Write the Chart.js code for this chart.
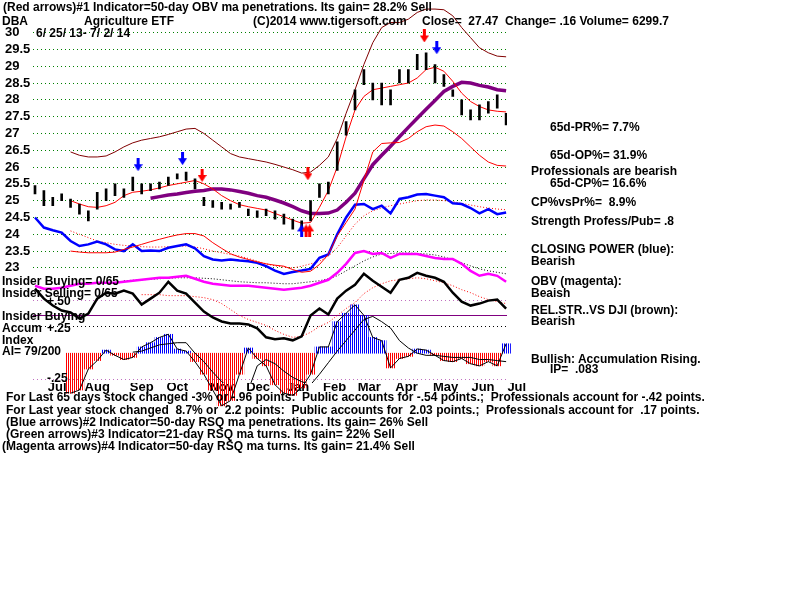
<!DOCTYPE html>
<html>
<head>
<meta charset="utf-8">
<script src="https://cdn.jsdelivr.net/npm/chart.js@4"></script>
<style>
body { margin: 0; background: #fff; }
#wrap { position: relative; width: 800px; height: 600px; }
#wrap div { position: absolute; white-space: pre; font-family: "Liberation Sans", Arial, sans-serif; font-weight: bold; line-height: 13px; color: #000; }
</style>
</head>
<body>
<div id="wrap"><canvas id="chart" width="800" height="600"></canvas></div>
<script>
// weekly samples, 6/25/13 .. 7/2/14
const monthLabels = ["Jul", "Aug", "Sep", "Oct", "Nov", "Dec", "Jan", "Feb", "Mar", "Apr", "May", "Jun", "Jul"];
const monthPos = [2.5, 7.0, 12.0, 16.0, 21.0, 25.1, 29.6, 33.7, 37.6, 41.8, 46.2, 50.4, 54.2];
const priceTicks = [23, 23.5, 24, 24.5, 25, 25.5, 26, 26.5, 27, 27.5, 28, 28.5, 29, 29.5, 30];

const priceHigh = [25.45, 25.3, 25.1, 25.2, 25.05, 24.9, 24.7, 25.25, 25.35, 25.5,
  25.35, 25.7, 25.5, 25.5, 25.55, 25.7, 25.8, 25.85, 25.65, 25.1,
  25.0, 24.95, 24.9, 24.95, 24.75, 24.7, 24.75, 24.7, 24.6, 24.45,
  24.4, 25.0, 25.5, 25.55, 26.75, 27.35, 28.3, 28.9, 28.5, 28.5,
  28.3, 28.9, 28.9, 29.35, 29.4, 29.05, 28.75, 28.3, 28.0, 27.7,
  27.85, 27.95, 28.15, 27.6];
const priceLow = [25.2, 24.85, 24.85, 25.0, 24.8, 24.6, 24.4, 24.75, 25.0, 25.15,
  25.1, 25.3, 25.2, 25.3, 25.35, 25.45, 25.65, 25.6, 25.35, 24.85,
  24.8, 24.75, 24.75, 24.8, 24.55, 24.5, 24.55, 24.45, 24.3, 24.15,
  24.2, 24.4, 25.1, 25.2, 25.9, 26.95, 27.7, 28.45, 28.0, 27.85,
  27.85, 28.5, 28.5, 28.9, 28.9, 28.5, 28.4, 28.1, 27.55, 27.4,
  27.4, 27.6, 27.75, 27.25];
const ma21 = [null, null, null, null, 25.0, 24.9, 24.82, 24.8, 24.85, 24.95,
  25.15, 25.25, 25.28, 25.32, 25.38, 25.45, 25.5, 25.55, 25.6, 25.5,
  25.35, 25.15, 25.0, 24.88, 24.82, 24.77, 24.72, 24.62, 24.52, 24.42,
  24.33, 24.35, 24.8, 25.3, 26.0, 26.9, 27.7, 28.1, 28.3, 28.35,
  28.4, 28.45, 28.5, 28.65, 28.9, 28.97, 28.85, 28.55, 28.2, 27.95,
  27.8, 27.7, 27.66, 27.64];
const bandUp = [null, null, null, null, 26.45, 26.35, 26.3, 26.3, 26.33, 26.45,
  26.6, 26.72, 26.8, 26.85, 26.9, 26.97, 27.05, 27.13, 27.15, 27.0,
  26.8, 26.6, 26.4, 26.3, 26.25, 26.2, 26.15, 26.08, 26.0, 25.92,
  25.82, 25.85, 26.05, 26.3, 26.85, 27.6, 28.3, 29.05, 29.7, 30.15,
  30.3, 30.3, 30.4, 30.6, 30.7, 30.7, 30.68, 30.5, 30.15, 29.85,
  29.55, 29.4, 29.3, 29.28];
const bandLow = [null, null, null, null, 23.5, 23.47, 23.45, 23.45, 23.45, 23.47,
  23.55, 23.62, 23.7, 23.78, 23.85, 23.92, 23.98, 24.02, 24.02, 23.95,
  23.75, 23.58, 23.42, 23.32, 23.25, 23.18, 23.12, 23.08, 23.05, 22.95,
  22.87, 22.9, 23.1, 23.4, 23.95, 24.35, 24.75, 25.6, 26.45, 26.7,
  26.72, 26.73, 26.85, 27.05, 27.2, 27.25, 27.22, 27.05, 26.85, 26.6,
  26.35, 26.15, 26.05, 26.03];
const ma50 = [null, null, null, null, null, null, null, null, null, null,
  null, null, null, 25.07, 25.12, 25.17, 25.2, 25.24, 25.28, 25.3,
  25.35, 25.35, 25.32, 25.27, 25.22, 25.15, 25.1, 25.02, 24.93, 24.82,
  24.7, 24.62, 24.62, 24.63, 24.72, 24.95, 25.22, 25.65, 26.07, 26.35,
  26.62, 26.9, 27.18, 27.45, 27.72, 27.98, 28.25, 28.4, 28.52, 28.5,
  28.43, 28.38, 28.3, 28.27];
const closingPower = [24.5, 24.2, 24.12, 24.05, 23.8, 23.65, 23.7, 23.78, 23.7, 23.55,
  23.5, 23.7, 23.5, 23.52, 23.5, 23.6, 23.65, 23.7, 23.58, 23.35,
  23.25, 23.22, 23.25, 23.22, 23.2, 23.15, 23.05, 22.92, 22.82, 22.88,
  22.92, 22.97, 23.3, 23.4, 24.0, 24.5, 24.88, 24.9, 24.75, 24.85,
  24.62, 25.05, 25.1, 25.18, 25.2, 25.15, 25.1, 24.92, 24.9, 24.78,
  24.62, 24.75, 24.6, 24.65];
const cpMa = [null, null, null, null, 24.1, 24.0, 23.9, 23.8, 23.75, 23.7,
  23.67, 23.65, 23.63, 23.62, 23.62, 23.63, 23.64, 23.65, 23.62, 23.57,
  23.5, 23.45, 23.4, 23.35, 23.28, 23.2, 23.12, 23.06, 23.02, 23.0,
  23.05, 23.12, 23.2, 23.35, 23.6, 23.95, 24.3, 24.55, 24.7, 24.78,
  24.85, 24.9, 24.95, 25.0, 25.02, 25.02, 25.0, 24.97, 24.92, 24.87,
  24.82, 24.78, 24.75, 24.73];
const obv = [150, 120, 120, 130, 150, 170, 170, 180, 180, 180,
  190, 200, 210, 220, 230, 230, 240, 250, 220, 190,
  170, 160, 150, 150, 150, 140, 130, 120, 110, 120,
  130, 150, 180, 210, 280, 370, 480, 500, 470, 480,
  430, 470, 470, 470, 450, 430, 420, 420, 370, 300,
  250, 270, 250, 190];
const obvMa = [null, null, null, null, null, null, null, null, null, null,
  200, 205, 210, 215, 220, 225, 230, 230, 230, 225,
  220, 210, 200, 190, 185, 180, 180, 175, 170, 170,
  180, 190, 200, 220, 250, 300, 350, 400, 440, 470,
  475, 480, 480, 475, 470, 460, 440, 410, 380, 350,
  320, 300, 285, 270];
const relStrength = [1.135, 1.085, 1.05, 1.025, 1.015, 0.985, 1.01, 1.085, 1.115, 1.11,
  1.125, 1.11, 1.055, 1.085, 1.115, 1.17, 1.125, 1.11, 1.065, 1.02,
  0.99, 0.97, 0.96, 0.96, 0.955, 0.935, 0.89, 0.88, 0.885, 0.875,
  0.895, 1.0, 1.035, 1.005, 1.085, 1.125, 1.155, 1.21, 1.175, 1.145,
  1.115, 1.18, 1.19, 1.215, 1.2, 1.19, 1.17, 1.115, 1.07, 1.05,
  1.06, 1.075, 1.08, 1.035];
const rsMa = [null, null, null, null, null, null, null, null, null, null,
  null, null, 1.105, 1.105, 1.105, 1.1, 1.1, 1.1, 1.095, 1.09,
  1.08, 1.06, 1.03, 1.0, 0.98, 0.965, 0.95, 0.925, 0.905, 0.89,
  0.895, 0.915, 0.945, 0.965, 1.0, 1.035, 1.065, 1.11, 1.14, 1.16,
  1.175, 1.18, 1.185, 1.19, 1.185, 1.175, 1.165, 1.15, 1.13, 1.115,
  1.095, 1.08, 1.07, 1.06];
const accumIndex = [null, null, null, null, -0.38, -0.35, -0.15, -0.07, 0.03, -0.02,
  -0.06, -0.04, 0.06, 0.1, 0.15, 0.18, 0.04, 0.02, -0.08, -0.2,
  -0.35, -0.5, -0.45, -0.2, 0.05, -0.05, -0.12, -0.3, -0.38, -0.4,
  -0.33, -0.2, 0.06, 0.06, 0.3, 0.38, 0.46, 0.36, 0.15, 0.12,
  -0.14, -0.05, -0.03, 0.04, 0.03, -0.02, -0.07, -0.08, -0.05, -0.1,
  -0.12, -0.08, -0.12, 0.09];
const aiMa = [null, null, null, null, null, null, null, null, null, null,
  null, 0.01, 0.02, 0.05, 0.08, 0.09, 0.1, 0.1, 0.0, -0.08,
  -0.18, -0.27, -0.34, -0.37, -0.35, -0.12, -0.06, -0.1, -0.17, -0.23,
  -0.27, -0.3, -0.2, -0.09, 0.02, 0.12, 0.22, 0.32, 0.35, 0.3,
  0.24, 0.12, 0.05, 0.0, -0.02, -0.02, -0.03, -0.04, -0.04, -0.04,
  -0.06, -0.06, -0.07, -0.08];
const aiLevels = [-0.25, 0.25, 0.5];

// signal arrows: week position, price, colour, direction
const arrowWeek = [11.6, 16.6, 18.8, 30.7, 43.8, 45.2, 30.0, 30.5, 30.9];
const arrowPrice = [26.07, 26.25, 25.75, 25.8, 29.9, 29.55, 24.1, 24.1, 24.1];
const arrowColor = ["#0000ff", "#0000ff", "#ff0000", "#ff0000", "#ff0000", "#0000ff", "#0000ff", "#ff0000", "#ff0000"];
const arrowUp = [false, false, false, false, false, false, true, true, true];

const texts = [
  [3, 1, 12, "(Red arrows)#1 Indicator=50-day OBV ma penetrations. Its gain= 28.2% Sell"],
  [2, 15, 12, "DBA"],
  [84, 15, 12, "Agriculture ETF"],
  [253, 15, 12, "(C)2014 www.tigersoft.com"],
  [422, 15, 12, "Close=  27.47  Change= .16 Volume= 6299.7"],
  [36, 27, 12, "6/ 25/ 13- 7/ 2/ 14"],
  [550, 121, 12, "65d-PR%= 7.7%"],
  [550, 149, 12, "65d-OP%= 31.9%"],
  [531, 165, 12, "Professionals are bearish"],
  [550, 177, 12, "65d-CP%= 16.6%"],
  [531, 196, 12, "CP%vsPr%=  8.9%"],
  [531, 215, 12, "Strength Profess/Pub= .8"],
  [531, 243, 12, "CLOSING POWER (blue):"],
  [531, 255, 12, "Bearish"],
  [531, 275, 12, "OBV (magenta):"],
  [531, 287, 12, "Beaish"],
  [531, 304, 12, "REL.STR..VS DJI (brown):"],
  [531, 315, 12, "Bearish"],
  [531, 353, 12, "Bullish: Accumulation Rising."],
  [550, 363, 12, "IP=  .083"],
  [2, 275, 12, "Insider Buying= 0/65"],
  [2, 287, 12, "Insider Selling= 0/65"],
  [47, 295, 12, "+.50"],
  [2, 310, 12, "Insider Buying"],
  [2, 322, 12, "Accum"],
  [47, 322, 12, "+.25"],
  [2, 334, 12, "Index"],
  [2, 345, 12, "AI= 79/200"],
  [47, 372, 12, "-.25"],
  [6, 391, 12, "For Last 65 days stock changed -3% or -.96 points:  Public accounts for -.54 points.;  Professionals account for -.42 points."],
  [6, 404, 12, "For Last year stock changed  8.7% or  2.2 points:  Public accounts for  2.03 points.;  Professionals account for  .17 points."],
  [6, 416, 12, "(Blue arrows)#2 Indicator=50-day RSQ ma penetrations. Its gain= 26% Sell"],
  [6, 428, 12, "(Green arrows)#3 Indicator=21-day RSQ ma turns. Its gain= 22% Sell"],
  [2, 440, 12, "(Magenta arrows)#4 Indicator=50-day RSQ ma turns. Its gain= 21.4% Sell"]
];

const FONT = "'Liberation Sans', Arial, sans-serif";
const xy = (arr) => arr.map((v, i) => ({ x: i, y: v }));

function stripes(color) {
  const c = document.createElement("canvas");
  c.width = 2;
  c.height = 1;
  const g = c.getContext("2d");
  g.fillStyle = color;
  g.fillRect(0, 0, 1, 1);
  return g.createPattern(c, "repeat");
}

function arrow(color, up) {
  const c = document.createElement("canvas");
  c.width = 9;
  c.height = 13;
  const g = c.getContext("2d");
  if (up) {
    g.translate(0, 13);
    g.scale(1, -1);
  }
  g.fillStyle = color;
  g.fillRect(3, 0, 3, 7);
  g.beginPath();
  g.moveTo(0, 6);
  g.lineTo(9, 6);
  g.lineTo(4.5, 13);
  g.closePath();
  g.fill();
  return c;
}

const line = (data, axis, color, width, dash, order) => ({
  type: "line",
  data: xy(data),
  yAxisID: axis,
  borderColor: color,
  borderWidth: width,
  borderDash: dash,
  pointRadius: 0,
  tension: 0,
  fill: false,
  order: order,
});

const redStripes = stripes("#ff0000");
const blueStripes = stripes("#0000ff");

new Chart(document.getElementById("chart"), {
  type: "line",
  data: {
    datasets: [
      {
        type: "line",
        data: arrowWeek.map((w, i) => ({ x: w, y: arrowPrice[i] })),
        yAxisID: "y",
        showLine: false,
        pointStyle: arrowWeek.map((w, i) => arrow(arrowColor[i], arrowUp[i])),
        pointRadius: 5,
        clip: false,
        order: 0,
      },
      {
        type: "bar",
        data: priceHigh.map((h, i) => ({ x: i, y: [priceLow[i], h] })),
        yAxisID: "y",
        backgroundColor: "#000",
        barThickness: 2,
        grouped: false,
        order: 1,
      },
      line(ma21, "y", "#ff0000", 1, [], 2),
      line(bandUp, "y", "#800000", 1, [], 3),
      line(bandLow, "y", "#ff0000", 1, [], 3),
      line(ma50, "y", "#800080", 3.5, [], 4),
      line(closingPower, "y", "#0000ff", 2.5, [], 5),
      line(cpMa, "y", "#ff0000", 1, [1, 2], 6),
      line(obv, "obv", "#ff00ff", 2.5, [], 7),
      line(obvMa, "obv", "#000000", 1, [1, 2], 8),
      line(relStrength, "rs", "#000000", 2.5, [], 9),
      line(rsMa, "rs", "#ff0000", 1, [1, 2], 10),
      line(aiMa, "ai", "#000000", 1, [], 11),
      Object.assign(line(accumIndex, "ai", "#000000", 1, [], 12), { clip: false }),
      {
        type: "bar",
        data: xy(accumIndex),
        yAxisID: "ai",
        backgroundColor: (c) => (c.raw && c.raw.y < 0 ? redStripes : blueStripes),
        barPercentage: 1,
        categoryPercentage: 1,
        grouped: false,
        clip: false,
        order: 13,
      },
    ],
  },
  options: {
    responsive: false,
    animation: false,
    devicePixelRatio: 1,
    layout: { padding: { left: 5, top: 5, right: 293, bottom: 203 } },
    plugins: { legend: { display: false }, tooltip: { enabled: false } },
    scales: {
      x: {
        type: "linear",
        min: -0.225,
        max: 53.1,
        offset: false,
        afterBuildTicks: (s) => { s.ticks = monthPos.map((v) => ({ value: v })); },
        afterFit: (s) => { s.height = 14; },
        grid: { display: false },
        border: { display: false },
        ticks: {
          autoSkip: false,
          maxRotation: 0,
          padding: -11,
          color: "#000",
          font: { family: FONT, size: 13, weight: "bold" },
          callback: (v, i) => monthLabels[i],
        },
      },
      y: {
        position: "left",
        min: 19.575,
        max: 30.738,
        afterBuildTicks: (s) => { s.ticks = priceTicks.map((v) => ({ value: v })); },
        afterFit: (s) => { s.width = 28; },
        grid: { color: "#008000", drawTicks: false },
        border: { display: false, dash: [1, 3] },
        ticks: {
          crossAlign: "far",
          padding: 0,
          color: "#000",
          font: { family: FONT, size: 13, weight: "bold" },
          callback: (v) => String(v),
        },
      },
      ai: {
        position: "right",
        min: -0.283,
        max: 3.283,
        afterBuildTicks: (s) => { s.ticks = aiLevels.map((v) => ({ value: v })); },
        afterFit: (s) => { s.width = 0; },
        ticks: { display: false },
        grid: { drawTicks: false, color: (c) => (c.tick && c.tick.value === 0.25 ? "#000000" : "#c070c0") },
        border: { display: false, dash: [1, 3] },
      },
      rs: {
        position: "right",
        min: 0.66,
        max: 2.55,
        afterBuildTicks: (s) => { s.ticks = [{ value: 1 }]; },
        afterFit: (s) => { s.width = 0; },
        ticks: { display: false },
        grid: { drawTicks: false, color: "#800080" },
        border: { display: false },
      },
      obv: { display: false, min: -830, max: 2950 },
    },
  },
});

const wrap = document.getElementById("wrap");
texts.forEach(([x, y, size, t]) => {
  const d = document.createElement("div");
  d.style.left = x + "px";
  d.style.top = y + "px";
  d.style.fontSize = size + "px";
  d.textContent = t;
  wrap.appendChild(d);
});
</script>
</body>
</html>
